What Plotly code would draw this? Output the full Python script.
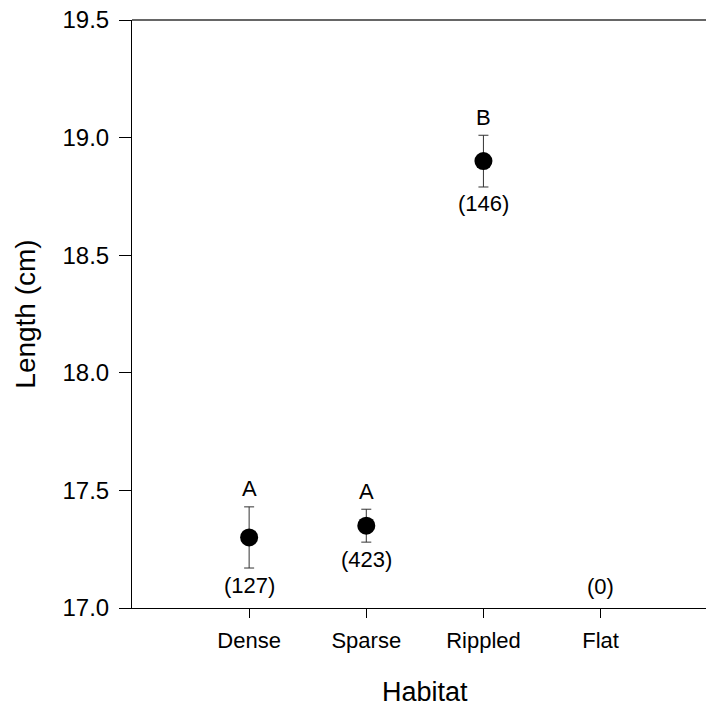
import plotly.graph_objects as go

# Habitat categories and summary statistics of fish length
habitats = ["Dense", "Sparse", "Rippled", "Flat"]
positions = [1, 2, 3, 4]
mean_length = [17.30, 17.35, 18.90, None]
std_error = [0.13, 0.07, 0.11, None]
sig_groups = ["A", "A", "B", ""]
sample_sizes = [127, 423, 146, 0]

y_ticks = [17.0, 17.5, 18.0, 18.5, 19.0, 19.5]
font_family = "Liberation Sans, Arial, sans-serif"

fig = go.Figure()

fig.add_trace(go.Scatter(
    x=positions[:3],
    y=mean_length[:3],
    mode="markers",
    marker=dict(size=18, color="black"),
    error_y=dict(type="data", array=std_error[:3], visible=True,
                 color="#333333", thickness=1, width=5),
    showlegend=False,
))

annotations = []
for i, (pos, m, se, grp, n) in enumerate(zip(positions, mean_length, std_error,
                                             sig_groups, sample_sizes)):
    if m is not None:
        annotations.append(dict(x=pos, y=m + se, text=grp, showarrow=False,
                                yanchor="middle", yshift=18,
                                font=dict(size=22, color="black", family=font_family)))
        annotations.append(dict(x=pos, y=m - se, text=f"({n})", showarrow=False,
                                yanchor="middle", yshift=-17,
                                font=dict(size=22, color="black", family=font_family)))
    else:
        annotations.append(dict(x=pos, y=y_ticks[0], text=f"({n})", showarrow=False,
                                yanchor="middle", yshift=22,
                                font=dict(size=22, color="black", family=font_family)))

# x-axis title centred on the full category span
annotations.append(dict(x=2.5, xref="x", y=0, yref="paper", text="Habitat",
                        showarrow=False, yanchor="middle", yshift=-84,
                        font=dict(size=27, color="black", family=font_family)))

fig.update_layout(
    width=706, height=708,
    margin=dict(l=132, r=0, t=20, b=100),
    paper_bgcolor="white", plot_bgcolor="white",
    font=dict(family=font_family, color="black"),
    annotations=annotations,
    shapes=[dict(type="line", xref="paper", yref="paper", x0=0, x1=1, y0=1, y1=1,
                 line=dict(color="#333333", width=1.5))],
)

fig.update_xaxes(
    range=[0, 4.9], tickmode="array", tickvals=positions, ticktext=habitats,
    showgrid=False, zeroline=False, showline=True, linecolor="black", linewidth=1,
    ticks="outside", ticklen=9, tickcolor="black", ticklabelstandoff=4,
    tickfont=dict(size=22, family=font_family, color="black"),
)
fig.update_yaxes(
    range=[17.0, 19.5], tickmode="array", tickvals=y_ticks,
    ticktext=[f"{v:.1f}" for v in y_ticks],
    showgrid=False, zeroline=False, showline=True, linecolor="black", linewidth=1,
    ticks="outside", ticklen=12, tickcolor="black", ticklabelstandoff=5,
    tickfont=dict(size=24, family=font_family, color="black"),
    title=dict(text="Length (cm)", font=dict(size=28, family=font_family, color="black"),
               standoff=18),
)

fig.write_html("out.html")
